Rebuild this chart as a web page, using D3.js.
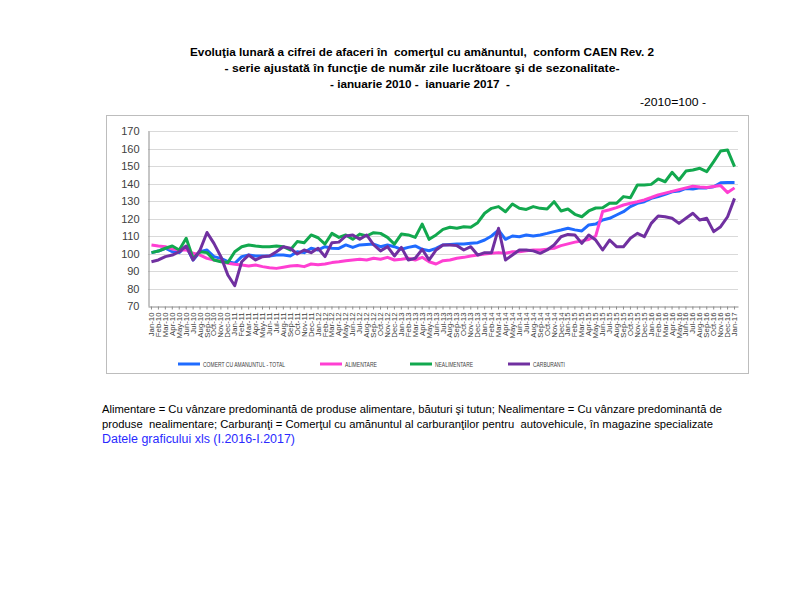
<!DOCTYPE html>
<html><head><meta charset="utf-8">
<script src="https://cdn.jsdelivr.net/npm/d3@7"></script>
<style>body{margin:0;background:#fff}svg{display:block}text{white-space:pre}</style>
</head><body>
<script>
const monthNames = ["Jan","Feb","Mar","Apr","May","Jun","Jul","Aug","Sep","Oct","Nov","Dec"];
const years = ["10","11","12","13","14","15","16","17"];
const categories = [];
years.forEach(y => monthNames.forEach(m => { if (categories.length < 85) categories.push(m + "-" + y); }));

const total = [100.5,101.4,103,101,100.5,104,96.3,101,102,98.2,97.2,95.3,
94.4,98.2,99.1,98.6,98.6,98.6,99.1,99.1,98.6,101,100.5,103,
102,103.9,103,102.9,104.9,103.5,104.9,105.2,105.4,103.9,104.9,103.9,
102.4,103.5,104.3,102.4,101.6,102.9,104.9,105.2,105.4,105.4,105.8,106.2,
107.7,110,113.4,108.1,110,109.6,110.6,110,110.6,111.5,112.5,113.4,
114.4,113.5,112.9,116.3,116.8,119.1,120.1,122,123.9,126.8,128.7,129.6,
131.5,132.5,133.8,135.3,135.7,137.2,136.8,137.5,137.5,138.1,140.4,140.6,
140.6];
const alimentare = [104.9,104.3,103.9,102.5,102,102,100.1,99.1,97.2,96.3,95.7,94.4,
93.8,93.4,92.9,93.4,92.5,91.9,91.5,92.2,92.8,93.2,92.5,94,
93.6,94,94.8,95.3,95.9,96.3,96.7,96.3,97.3,96.7,97.8,96.3,
96.7,97.3,96.3,97.8,95.3,94,95.9,96.3,97.3,97.8,98.6,99.1,
99.7,100.1,100.5,100.1,101,101,101.6,102,102,102.5,103,104.5,
105.5,106.5,107.2,108,110,124,125,126.2,127.7,128.7,129.6,130.6,
132,133.5,134.5,135.5,136.5,137.5,138.5,138,137.7,138.3,138.8,134.8,
137.5];
const nealimentare = [100.5,101.4,103,104.3,102,108.7,97.2,101,100.5,96.3,95.3,94.8,
101,103.9,104.9,104.3,103.9,103.9,104.3,103.9,102,106.8,106.2,110.6,
109,105.4,111.5,109.2,110.6,108.1,111.1,110,111.9,111.5,109.2,105.4,
111.1,110.6,109.2,116.8,108.1,110.6,113.8,115,114.4,115.3,115,117.6,
123,125.8,126.8,123.9,128.3,125.8,125.2,126.8,125.8,125.4,129.6,124.3,
125.4,122.4,121,124.3,126,126.2,128.7,128.7,132.5,131.9,139.1,139.1,
139.5,142.6,141,146.4,142,147.1,147.7,148.7,146.8,152.5,158.6,159.1,
149.6];
const carburanti = [95.3,96.3,98.2,99.1,101,104.3,96.3,102,112,105.8,98.2,87.7,
81.6,95.3,99.1,96.3,98.2,98.6,101,103.9,103,99.7,102,100.5,
103,98.2,106.2,106.5,110,110.6,108.1,110.6,105,101.5,103.9,98.6,
103.5,96.3,97.3,102.4,96.3,102,104.9,104.9,104.5,102,103.9,99.1,
100.5,100.5,114.4,96.3,99.1,102,102,101.5,100.1,102,104.9,109.6,
110.9,110.6,105.8,110.6,107.7,102,107.7,103.9,103.9,108.7,111.5,109.6,
117.2,121.4,121,120.1,117.2,120.1,123,119.1,120.1,112.5,115.3,121,
131.5];

const seriesNames = ["COMERT CU AMANUNTUL - TOTAL","ALIMENTARE","NEALIMENTARE","CARBURANTI"];
const seriesColors = ["#1f6bff","#ff3fd2","#12a84e","#7030a0"];
const seriesData = [total, alimentare, nealimentare, carburanti];
const yTicks = [70,80,90,100,110,120,130,140,150,160,170];

const titleLines = [
 "Evoluţia lunară a cifrei de afaceri în  comerţul cu amănuntul,  conform CAEN Rev. 2",
 "- serie ajustată în funcţie de număr zile lucrătoare şi de sezonalitate-",
 "- ianuarie 2010 -  ianuarie 2017  -"];
const noteLines = [
 "Alimentare = Cu vânzare predominantă de produse alimentare, băuturi şi tutun; Nealimentare = Cu vânzare predominantă de",
 "produse  nealimentare; Carburanţi = Comerţul cu amănuntul al carburanţilor pentru  autovehicule, în magazine specializate"];
const linkText = "Datele graficului xls (I.2016-I.2017)";

const W = 800, H = 600;
const svg = d3.select("body").append("svg").attr("width", W).attr("height", H)
  .style("font-family", "'Liberation Sans', Arial, sans-serif");

// titles
const tX = [422, 422, 420], tY = [56, 72, 88], tL = [464, 395, 180];
titleLines.forEach((t, i) => {
  svg.append("text").attr("x", tX[i]).attr("y", tY[i]).attr("text-anchor", "middle")
    .attr("font-size", 11.5).attr("font-weight", "bold").attr("fill", "#000")
    .attr("textLength", tL[i]).attr("lengthAdjust", "spacingAndGlyphs").text(t);
});
svg.append("text").attr("x", 640).attr("y", 106).attr("font-size", 11.5).attr("fill", "#000")
  .attr("textLength", 66).attr("lengthAdjust", "spacingAndGlyphs").text("-2010=100 -");

// chart frame
svg.append("rect").attr("x", 106.5).attr("y", 115.5).attr("width", 642).attr("height", 258)
  .attr("fill", "#fff").attr("stroke", "#bdbdbd").attr("stroke-width", 1);

const x = d3.scaleBand().domain(categories).range([148, 738]);
const y = d3.scaleLinear().domain([70, 170]).range([306, 131]);
const cx = d => x(d) + x.bandwidth() / 2;

// grid
svg.append("g").selectAll("line").data(yTicks.slice(1)).join("line")
  .attr("x1", 148).attr("x2", 738).attr("y1", d => Math.round(y(d)) + 0.5).attr("y2", d => Math.round(y(d)) + 0.5)
  .attr("stroke", "#d9d9d9").attr("stroke-width", 1);

// y axis
const yAxis = svg.append("g").attr("transform", "translate(148.5,0)")
  .call(d3.axisLeft(y).tickValues(yTicks).tickSize(0).tickPadding(9));
yAxis.select(".domain").attr("stroke", "#8c8c8c");
yAxis.selectAll("text").attr("font-size", 11).attr("fill", "#404040")
  .attr("font-family", "'Liberation Sans', Arial, sans-serif");

// x axis
const xAxis = svg.append("g").attr("transform", "translate(0,306.5)")
  .call(d3.axisBottom(x).tickSize(3).tickSizeOuter(0));
xAxis.select(".domain").attr("stroke", "#8c8c8c");
xAxis.selectAll(".tick line").attr("stroke", "#8c8c8c");
xAxis.selectAll("text").attr("font-size", 7.8).attr("fill", "#404040")
  .attr("font-family", "'Liberation Sans', Arial, sans-serif")
  .attr("text-anchor", "end").attr("dy", "0.32em")
  .attr("transform", "translate(0,2) rotate(-90)").attr("x", -4).attr("y", 0);

// lines
const line = d3.line().x((d, i) => cx(categories[i])).y(d => y(d));
seriesData.forEach((s, k) => {
  svg.append("path").datum(s).attr("d", line).attr("fill", "none")
    .attr("stroke", seriesColors[k]).attr("stroke-width", 3).attr("stroke-linejoin", "round");
});

// legend
const legX = [178, 320, 410, 508], legL = [82, 32, 38, 32];
seriesNames.forEach((n, k) => {
  svg.append("line").attr("x1", legX[k]).attr("x2", legX[k] + 22).attr("y1", 364).attr("y2", 364)
    .attr("stroke", seriesColors[k]).attr("stroke-width", 3);
  svg.append("text").attr("x", legX[k] + 25).attr("y", 366.5).attr("font-size", 7).attr("fill", "#404040")
    .attr("textLength", legL[k]).attr("lengthAdjust", "spacingAndGlyphs").text(n);
});

// notes
const nY = [413, 428], nL = [620, 611];
noteLines.forEach((t, i) => {
  svg.append("text").attr("x", 102).attr("y", nY[i]).attr("font-size", 11.5).attr("fill", "#000")
    .attr("textLength", nL[i]).attr("lengthAdjust", "spacingAndGlyphs").text(t);
});
svg.append("text").attr("x", 102).attr("y", 443).attr("font-size", 12).attr("fill", "#2a2aff")
  .attr("textLength", 193).attr("lengthAdjust", "spacingAndGlyphs").text(linkText);
</script>
</body></html>
